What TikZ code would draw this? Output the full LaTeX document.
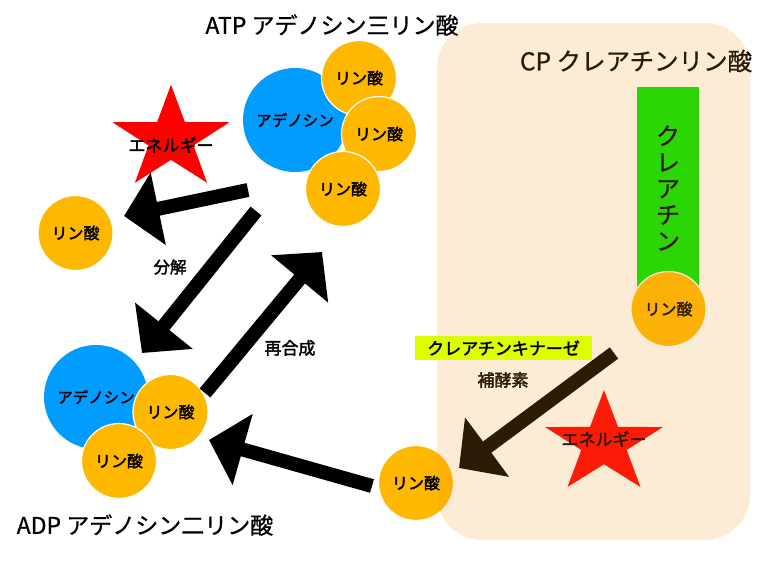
\documentclass[tikz,border=0pt]{standalone}
\usepackage{fontspec}
\setmainfont{Noto Sans CJK JP}
\newfontfamily\jpmed[FakeBold=2.2]{Noto Sans CJK JP}
\newfontfamily\jptitle[FakeBold=0.8]{Noto Sans CJK JP}
\usetikzlibrary{arrows.meta}
\definecolor{bluec}{RGB}{0,156,255}
\definecolor{orangec}{RGB}{255,184,0}
\definecolor{greenc}{RGB}{0,230,0}
\definecolor{panelc}{RGB}{237,147,32}
\definecolor{labelc}{RGB}{221,255,0}
\definecolor{starc}{RGB}{255,0,0}
\begin{document}
\begin{tikzpicture}[x=1pt,y=-1pt,
 blob/.style={circle, fill=bluec, minimum size=104pt, inner sep=0pt, font=\jpmed\fontsize{15.5}{18}\selectfont},
 phos/.style={circle, fill=orangec, draw=white, line width=1.2pt, minimum size=75pt, inner sep=0pt, font=\jpmed\fontsize{16}{19}\selectfont},
 title/.style={font=\jptitle\fontsize{23}{27}\selectfont, inner sep=0pt},
 lbl/.style={font=\jpmed\fontsize{17}{20}\selectfont, inner sep=0pt},
 bigarrow/.style={line width=14pt, -{Triangle[width=72pt,length=35pt]}},
]
\useasboundingbox (0,0) rectangle (757,565);

% ATP cluster
\node[blob] (atpA) at (295,120) {アデノシン};
\node[phos] (atpP1) at (359,78) {リン酸};
\node[phos] (atpP2) at (379,134) {リン酸};
\node[phos] (atpP3) at (343,189) {リン酸};
\node[title] (atpT) at (332,25) {ATP アデノシン三リン酸};

% free phosphate
\node[phos] (freeP) at (75.5,233) {リン酸};

% ADP cluster
\node[blob] (adpA) at (96,397) {アデノシン};
\node[phos] (adpP1) at (170.5,412) {リン酸};
\node[phos] (adpP2) at (119,461) {リン酸};
\node[title] (adpT) at (145,525) {ADP アデノシン二リン酸};

% left star
\begin{scope}[shift={(171,139)}, x=61.5pt, y=54.2pt]
\fill[starc] (90:1) \foreach \i in {1,...,9}{ -- ({90+36*\i}:{ifthenelse(isodd(\i),0.385,1)}) } -- cycle;
\end{scope}
\node[lbl] (en1) at (171,145) {エネルギー};

% arrows on the left
\coordinate (a1s) at (248,190); \coordinate (a1e) at (124,216);
\coordinate (a2s) at (256,211); \coordinate (a2e) at (142,353);
\coordinate (a3s) at (205,393); \coordinate (a3e) at (322,252);
\coordinate (a4s) at (372,486); \coordinate (a4e) at (209,440);
\draw[bigarrow] (a1s) -- (a1e);
\draw[bigarrow] (a2s) -- (a2e);
\draw[bigarrow] (a3s) -- (a3e);
\draw[bigarrow] (a4s) -- (a4e);
\node[lbl, font=\jpmed\fontsize{16.5}{20}\selectfont] (bunkai) at (170,267) {分解};
\node[lbl] (saigo) at (290,348) {再合成};

% right side contents
\node[title, font=\jptitle\fontsize{24.5}{28}\selectfont] (cpT) at (636,61) {CP クレアチンリン酸};
\fill[greenc] (637,87) rectangle (699,300);
\node[align=center, inner sep=0pt, font=\jptitle\fontsize{24}{26.3}\selectfont] (crea) at (668,188) {ク\\レ\\ア\\チ\\ン};
\node[phos] (cpP) at (668.5,309) {リン酸};
\node[phos] (newP) at (416,483) {リン酸};

\begin{scope}[shift={(604,443.6)}, x=62pt, y=53.6pt]
\fill[starc] (90:1) \foreach \i in {1,...,9}{ -- ({90+36*\i}:{ifthenelse(isodd(\i),0.385,1)}) } -- cycle;
\end{scope}
\node[lbl] (en2) at (604,439) {エネルギー};

\coordinate (a5s) at (614,353); \coordinate (a5e) at (459,468);
\draw[bigarrow] (a5s) -- (a5e);
\node[lbl] (hokoso) at (503,380) {補酵素};

% translucent panel over the right side
\fill[panelc, fill opacity=0.19, rounded corners=45pt] (437,23) rectangle (750,540);

% enzyme label
\node[lbl, fill=labelc, minimum width=177pt, minimum height=24pt] (kinase) at (503.5,348) {クレアチンキナーゼ};
\end{tikzpicture}
\end{document}
